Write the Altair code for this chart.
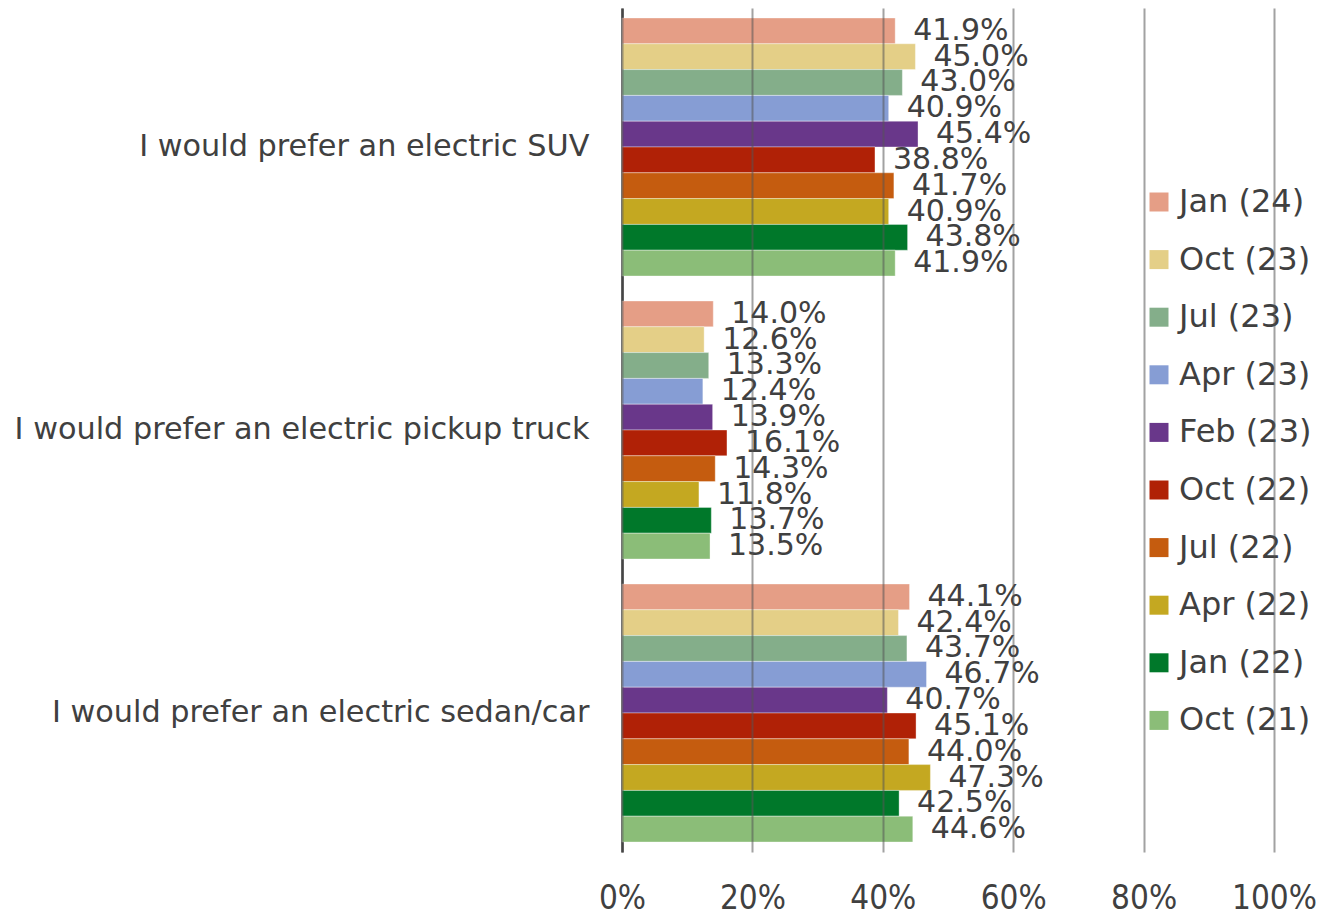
import altair as alt
import pandas as pd

categories = [
    "I would prefer an electric SUV",
    "I would prefer an electric pickup truck",
    "I would prefer an electric sedan/car",
]
series = ["Jan (24)", "Oct (23)", "Jul (23)", "Apr (23)", "Feb (23)",
          "Oct (22)", "Jul (22)", "Apr (22)", "Jan (22)", "Oct (21)"]
colors = ["#E59E86", "#E4CF87", "#84AE8A", "#869DD4", "#69378A",
          "#B02106", "#C55C0F", "#C4A821", "#00782A", "#8BBD78"]
suv = [41.9, 45.0, 43.0, 40.9, 45.4, 38.8, 41.7, 40.9, 43.8, 41.9]
pickup = [14.0, 12.6, 13.3, 12.4, 13.9, 16.1, 14.3, 11.8, 13.7, 13.5]
sedan = [44.1, 42.4, 43.7, 46.7, 40.7, 45.1, 44.0, 47.3, 42.5, 44.6]
x_ticks = [0, 0.2, 0.4, 0.6, 0.8, 1.0]

rows = []
for cat, vals in zip(categories, [suv, pickup, sedan]):
    for s, v in zip(series, vals):
        rows.append({"category": cat, "series": s, "value": v / 100.0,
                     "label": f"{v:.1f}%"})
df = pd.DataFrame(rows)

TEXT = "#404040"
FONT = "DejaVu Sans"

y_enc = alt.Y("category:N", sort=categories, title=None,
              scale=alt.Scale(paddingInner=0.0883, paddingOuter=0.0353),
              axis=alt.Axis(labelFontSize=30.3, labelColor=TEXT, labelFont=FONT,
                            labelPadding=33, ticks=False, domain=True,
                            domainColor="#333333", domainWidth=2.5,
                            labelLimit=700, grid=False))
yoff = alt.YOffset("series:N", sort=series,
                   scale=alt.Scale(domain=series, paddingInner=0, paddingOuter=0))
x_enc = alt.X("value:Q", title=None,
              scale=alt.Scale(domain=[0, 1], nice=False),
              axis=alt.Axis(values=x_ticks, format=".0%", grid=True,
                            gridColor="#555555", gridOpacity=0.55, gridWidth=2,
                            domain=False, ticks=False, labelFontSize=33,
                            labelFont="DejaVu Sans Condensed",
                            labelOverlap=False, labelFlush=False, labelBound=False,
                            labelColor=TEXT, labelPadding=30, zindex=1))

bars = alt.Chart(df).mark_bar(stroke="white", strokeWidth=0.6, strokeOpacity=0.6).encode(
    x=x_enc,
    y=y_enc,
    yOffset=yoff,
    color=alt.Color("series:N", sort=series,
                    scale=alt.Scale(domain=series, range=colors),
                    legend=alt.Legend(title=None, orient="none", legendX=521, legendY=178,
                                      symbolType="square", symbolSize=361,
                                      symbolStrokeWidth=0, labelFontSize=32,
                                      labelFont=FONT, labelColor=TEXT,
                                      labelOffset=4, rowPadding=25.6)),
)

labels = alt.Chart(df).mark_text(align="left", baseline="middle", dx=18,
                                 fontSize=30, font=FONT, color=TEXT).encode(
    x=alt.X("value:Q"),
    y=alt.Y("category:N", sort=categories),
    yOffset=yoff,
    text="label:N",
)

chart = (bars + labels).properties(
    width=652, height=844,
    background="white",
    autosize=alt.AutoSizeParams(type="none"),
    padding={"left": 614, "top": 0, "right": 42, "bottom": 66},
).configure_view(strokeWidth=0, strokeOpacity=0)

chart.save("out.html", embed_options={"renderer": "svg", "actions": False})
